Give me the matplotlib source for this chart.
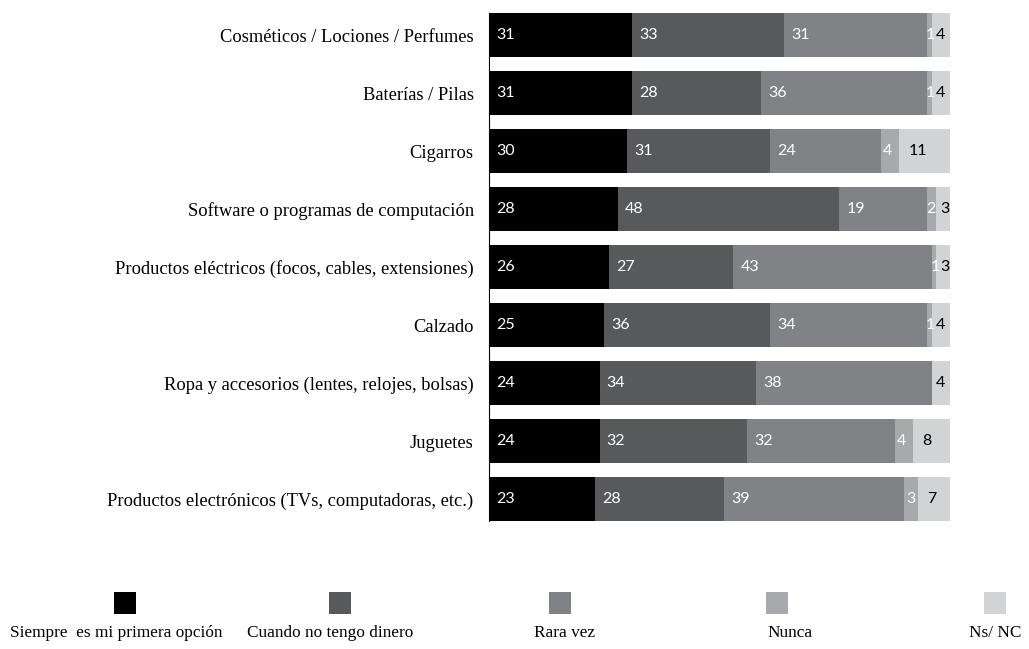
import numpy as np
import matplotlib.pyplot as plt
from matplotlib.patches import Rectangle

categorias = [
    "Cosméticos / Lociones / Perfumes",
    "Baterías / Pilas",
    "Cigarros",
    "Software o programas de computación",
    "Productos eléctricos (focos, cables, extensiones)",
    "Calzado",
    "Ropa y accesorios (lentes, relojes, bolsas)",
    "Juguetes",
    "Productos electrónicos (TVs, computadoras, etc.)",
]
siempre = [31, 31, 30, 28, 26, 25, 24, 24, 23]
sin_dinero = [33, 28, 31, 48, 27, 36, 34, 32, 28]
rara_vez = [31, 36, 24, 19, 43, 34, 38, 32, 39]
nunca = [1, 1, 4, 2, 1, 1, 0, 4, 3]
ns_nc = [4, 4, 11, 3, 3, 4, 4, 8, 7]

series = [siempre, sin_dinero, rara_vez, nunca, ns_nc]
nombres = ["Siempre  es mi primera opción", "Cuando no tengo dinero",
           "Rara vez", "Nunca", "Ns/ NC"]
colores = ["#000000", "#58595B", "#808285", "#A7A9AC", "#D1D3D4"]
color_texto = ["white", "white", "white", "white", "black"]

SERIF = ["Liberation Serif", "DejaVu Serif"]
NUM = ["Lato", "DejaVu Sans"]

fig = plt.figure(figsize=(10.29, 6.49), dpi=100)
ax = fig.add_axes([489 / 1029, 1 - 528 / 649, 461 / 1029, 522 / 649])

y = np.arange(len(categorias))
izq = np.zeros(len(categorias))
for k, (vals, col, tc) in enumerate(zip(series, colores, color_texto)):
    vals = np.array(vals, dtype=float)
    ax.barh(y, vals, left=izq, height=0.76, color=col, linewidth=0)
    for yi, l, v in zip(y, izq, vals):
        if v <= 0:
            continue
        # separación del texto respecto al inicio del segmento
        if k == 4:
            off = 4 if v < 5 else 9
        elif v < 3:
            off = -1
        elif v < 5:
            off = 2
        else:
            off = 7
        ax.annotate(f"{int(v)}", (l, yi), xytext=(off, 0), textcoords="offset pixels",
                    ha="left", va="center", color=tc, fontsize=11.5,
                    family=NUM)
    izq += vals

ax.set_xlim(0, 100)
ax.set_ylim(8.5, -0.5)
ax.set_xticks([])
ax.set_yticks(y)
ax.set_yticklabels(categorias, family=SERIF, fontsize=13.3)
ax.tick_params(axis="y", length=0, pad=11)
for s in ["top", "right", "bottom"]:
    ax.spines[s].set_visible(False)
ax.spines["left"].set_linewidth(0.8)
ax.spines["left"].set_bounds(-0.5 + 0.12, 8.5 - 0.12)

# leyenda manual: cuadro arriba, texto abajo
cx = [125, 340, 560, 777, 995]
tx = [116, 330, 565, 790, 995]
for c, t, col, nom in zip(cx, tx, colores, nombres):
    fig.patches.append(Rectangle(((c - 11) / 1029, 1 - 614 / 649), 22 / 1029, 22 / 649,
                                 transform=fig.transFigure, color=col, linewidth=0))
    fig.text(t / 1029, 1 - 633 / 649, nom, ha="center", va="center",
             family=SERIF, fontsize=12.4)

fig.savefig("out.png", dpi=100)
